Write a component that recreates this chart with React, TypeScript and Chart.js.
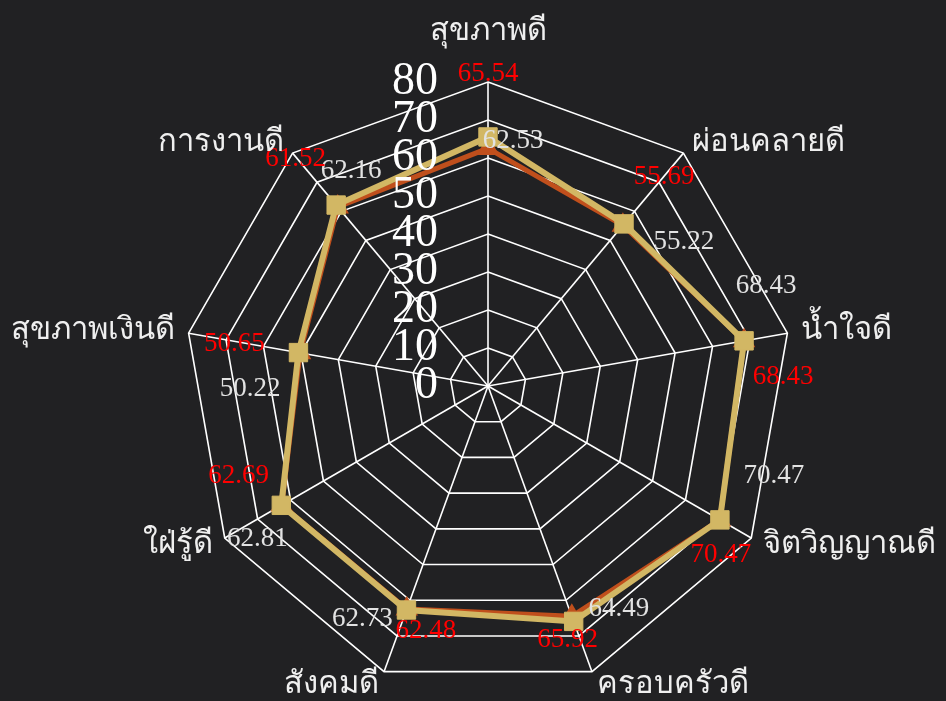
import React, { useEffect, useRef } from 'react';
import { Chart, registerables } from 'chart.js';

Chart.register(...registerables);

const categories = ['สุขภาพดี', 'ผ่อนคลายดี', 'น้ำใจดี', 'จิตวิญญาณดี', 'ครอบครัวดี', 'สังคมดี', 'ใฝ่รู้ดี', 'สุขภาพเงินดี', 'การงานดี'];
const goldValues = [65.54, 55.69, 68.43, 70.47, 65.92, 62.73, 62.81, 50.65, 62.16];
const redValues = [62.53, 55.22, 68.43, 70.47, 64.49, 62.48, 62.69, 50.22, 61.52];
const redLabelValues = [65.54, 55.69, 68.43, 70.47, 65.92, 62.48, 62.69, 50.65, 61.52];
const whiteLabelValues = [62.53, 55.22, 68.43, 70.47, 64.49, 62.73, 62.81, 50.22, 62.16];
const tickValues = [0, 10, 20, 30, 40, 50, 60, 70, 80];

// layout / style constants
const BG = '#212123';
const GOLD = '#d2b764';
const RED = '#c04f1c';
const SERIF = "'Liberation Serif', 'Times New Roman', serif";
const redLabelOffsets = [[0, -63], [40, -47], [39, 36], [1, 35], [-6, 19], [19, 22], [-43, -29], [-64, -9], [-42, -48]];
const whiteLabelOffsets = [[25, -7], [61, 17], [22, -55], [54, -44], [47, -7], [-44, 9], [-24, 34], [-50, 36], [15, -34]];

const labelsPlugin = {
  id: 'customLabels',
  afterDatasetsDraw(chart: any) {
    const ctx = chart.ctx;
    const scale = chart.scales.r;
    const xc = scale.xCenter;
    const yc = scale.yCenter;
    ctx.save();

    // data labels
    ctx.textAlign = 'center';
    ctx.textBaseline = 'middle';
    ctx.font = `27px ${SERIF}`;
    const drawVal = (vals: number[], offs: number[][], color: string) => {
      ctx.fillStyle = color;
      vals.forEach((v, i) => {
        const p = scale.getPointPosition(i, scale.getDistanceFromCenterForValue(v));
        ctx.fillText(v.toFixed(2), p.x + offs[i][0], p.y + offs[i][1]);
      });
    };
    drawVal(whiteLabelValues, whiteLabelOffsets, '#e2e2e2');
    drawVal(redLabelValues, redLabelOffsets, '#ff0000');

    // tick labels
    ctx.font = `46px ${SERIF}`;
    ctx.textAlign = 'right';
    ctx.fillStyle = '#ffffff';
    tickValues.forEach((v) => {
      const d = scale.getDistanceFromCenterForValue(v);
      ctx.fillText(String(v), xc - 50, yc - d);
    });

    // point labels
    ctx.font = `31px ${SERIF}`;
    ctx.fillStyle = '#efefef';
    const n = categories.length;
    categories.forEach((lab, i) => {
      const angle = (360 / n) * i;
      const p = scale.getPointPosition(i, scale.drawingArea + 14);
      let align: CanvasTextAlign = 'center';
      if (angle > 0 && angle < 180) align = 'left';
      else if (angle > 180) align = 'right';
      ctx.textAlign = align;
      let y = p.y;
      if (i === 0) y -= 36;
      ctx.fillText(lab, p.x, y);
    });
    ctx.restore();
  },
};

export default function App() {
  const ref = useRef<HTMLCanvasElement>(null);
  useEffect(() => {
    document.body.style.background = BG;
    const chart = new Chart(ref.current as HTMLCanvasElement, {
      type: 'radar',
      data: {
        labels: categories,
        datasets: [
          {
            label: 'gold',
            data: goldValues,
            borderColor: GOLD,
            backgroundColor: 'transparent',
            borderWidth: 6,
            fill: false,
            pointStyle: 'rect',
            pointRadius: 13,
            pointBorderWidth: 1,
            pointBackgroundColor: GOLD,
            pointBorderColor: GOLD,
          },
          {
            label: 'red',
            data: redValues,
            borderColor: RED,
            backgroundColor: 'transparent',
            borderWidth: 5,
            fill: false,
            pointStyle: 'triangle',
            pointRadius: 8,
            pointBackgroundColor: RED,
            pointBorderColor: RED,
          },
        ],
      },
      options: {
        responsive: true,
        maintainAspectRatio: false,
        animation: false,
        layout: { padding: { left: 30, right: 0, top: 74, bottom: 3 } },
        plugins: { legend: { display: false }, tooltip: { enabled: false } },
        elements: { line: { tension: 0 } },
        scales: {
          r: {
            min: 0,
            max: 80,
            ticks: { display: false, stepSize: 10 },
            grid: { color: '#ffffff', lineWidth: 1.6 },
            angleLines: { color: '#ffffff', lineWidth: 1.6 },
            pointLabels: { display: false },
          },
        },
      },
      plugins: [labelsPlugin],
    });
    return () => chart.destroy();
  }, []);
  return (
    <div style={{ width: 930, height: 685, position: 'relative' }}>
      <canvas ref={ref} />
    </div>
  );
}
